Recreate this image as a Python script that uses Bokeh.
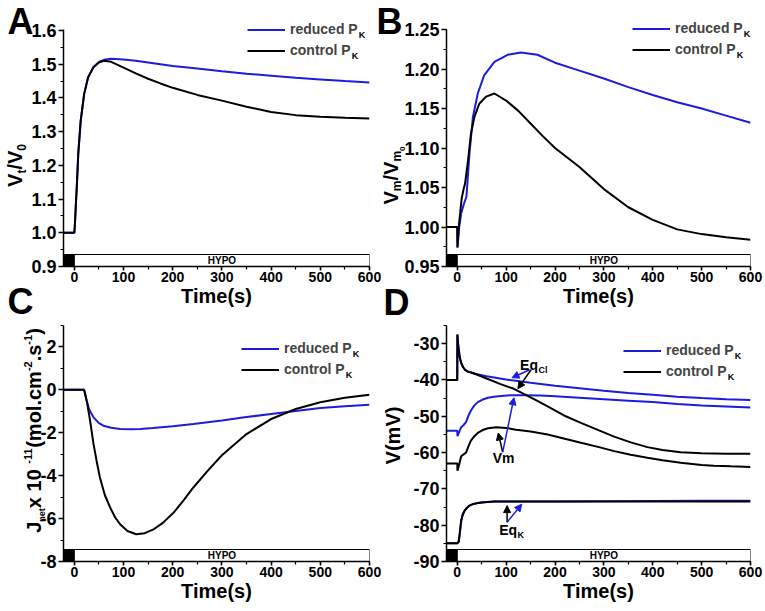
from math import pi
from bokeh.plotting import figure
from bokeh.models import (Label, Legend, LegendItem, Arrow, NormalHead, GridBox,
                          SingleIntervalTicker, PrintfTickFormatter, Range1d)
from bokeh.embed import file_html
from bokeh.resources import INLINE

FONT = "Liberation Sans"
BLUE = "#1c1ce0"
BLACK = "#000000"

# ---------------- data ----------------
stim_start = [-30, 0]
stim_end = [0, 600]
stim_fill = ["black", "white"]
stim_text = "HYPO"

# Panel A: Vt/V0
tA = [-21, 0, 1, 3, 5, 8, 13, 20, 28, 39, 50, 60, 75, 100, 125, 150, 175, 200,
      250, 300, 350, 400, 450, 500, 550, 600]
A_control = [1.0, 1.0, 1.02, 1.08, 1.135, 1.234, 1.333, 1.412, 1.461, 1.491, 1.505,
             1.510, 1.507, 1.490, 1.473, 1.457, 1.443, 1.430, 1.409, 1.392, 1.374,
             1.358, 1.349, 1.344, 1.341, 1.339]
A_reduced = [1.0, 1.0, 1.02, 1.08, 1.135, 1.234, 1.333, 1.412, 1.461, 1.492, 1.507,
             1.513, 1.516, 1.514, 1.510, 1.505, 1.500, 1.495, 1.487, 1.479, 1.472,
             1.466, 1.460, 1.455, 1.450, 1.446]

# Panel B: Vm/Vm0
tB_control = [-21, 0, 0.5, 3, 5, 9, 13, 16, 22, 28, 35, 45, 59, 76, 100, 125, 150,
              175, 200, 225, 250, 300, 350, 400, 450, 500, 550, 600]
B_control = [1.0, 1.0, 0.974, 1.0, 1.012, 1.036, 1.048, 1.055, 1.084, 1.118, 1.139,
             1.156, 1.165, 1.169, 1.160, 1.147, 1.131, 1.115, 1.100, 1.088, 1.076,
             1.048, 1.025, 1.009, 0.997, 0.991, 0.987, 0.984]
tB_reduced = [-21, 0, 0.5, 4, 8, 13, 18, 19, 25, 32, 42, 55, 76, 103, 130, 164, 200,
              250, 300, 350, 400, 450, 500, 550, 600]
B_reduced = [1.0, 1.0, 0.974, 1.0, 1.017, 1.028, 1.037, 1.040, 1.093, 1.139, 1.169,
             1.192, 1.209, 1.218, 1.221, 1.218, 1.208, 1.198, 1.188, 1.177, 1.167,
             1.158, 1.150, 1.141, 1.132]

# Panel C: Jnet
tC_control = [-21, 20, 26, 32, 39, 46, 52, 62, 73, 83, 93, 108, 126, 143, 161, 180,
              202, 222, 242, 270, 300, 350, 400, 450, 500, 550, 600]
C_control = [0, 0, -0.6, -1.43, -2.52, -3.4, -4.08, -4.9, -5.49, -5.95, -6.26, -6.58,
             -6.73, -6.68, -6.5, -6.2, -5.72, -5.15, -4.55, -3.8, -3.05, -2.06, -1.36,
             -0.89, -0.58, -0.37, -0.23]
tC_reduced = [-21, 20, 25, 30, 39, 50, 59, 75, 93, 115, 134, 160, 200, 242, 300, 350,
              400, 450, 500, 550, 600]
C_reduced = [0, 0, -0.5, -0.9, -1.28, -1.55, -1.67, -1.77, -1.82, -1.83, -1.82, -1.78,
             -1.7, -1.59, -1.43, -1.27, -1.12, -0.98, -0.84, -0.76, -0.69]

# Panel D: potentials (mV)
tD_eqcl_control = [-21, 0, 0.3, 2, 5, 8, 12, 16, 22, 30, 36, 60, 90, 117, 137, 160, 185,
                   222, 253, 290, 321, 355, 389, 420, 457, 500, 550, 600]
D_eqcl_control = [-40, -40, -27.5, -30.5, -33.7, -35.3, -36.5, -37.2, -37.7, -38.0, -38.3,
                  -39.6, -41.2, -42.5, -43.9, -45.5, -47.3, -50.0, -51.8, -53.9, -55.6,
                  -57.2, -58.5, -59.3, -59.9, -60.2, -60.3, -60.3]
tD_eqcl_reduced = [-21, 0, 0.3, 2, 5, 8, 12, 16, 22, 30, 36, 60, 100, 150, 200, 250, 300,
                   350, 400, 450, 500, 550, 600]
D_eqcl_reduced = [-40, -40, -27.5, -30.5, -33.7, -35.3, -36.5, -37.2, -37.7, -38.0, -38.3,
                  -39.0, -39.9, -40.8, -41.6, -42.3, -43.0, -43.6, -44.1, -44.6, -45.0,
                  -45.3, -45.5]
tD_vm_reduced = [-21, 0, 0.5, 4, 8, 13, 18, 23, 28, 35, 42, 52, 63, 75, 90, 110, 137, 170,
                 200, 250, 300, 350, 400, 450, 500, 550, 600]
D_vm_reduced = [-54, -54, -55.5, -54.3, -53.0, -52.4, -51.6, -49.8, -48.4, -47.0, -46.1,
                -45.4, -44.9, -44.6, -44.4, -44.2, -44.2, -44.3, -44.5, -44.9, -45.3,
                -45.7, -46.1, -46.6, -47.0, -47.3, -47.6]
tD_vm_control = [-21, 0, 0.5, 4, 8, 13, 18, 23, 28, 35, 42, 52, 63, 80, 100, 120, 150, 185,
                 220, 253, 290, 321, 355, 389, 420, 457, 500, 525, 560, 600]
D_vm_control = [-63, -63, -65, -63.2, -61.0, -60.5, -60.0, -58.2, -56.7, -55.5, -54.6,
                -53.8, -53.3, -53.0, -53.2, -53.7, -54.2, -55.0, -56.2, -57.3, -58.5,
                -59.6, -60.6, -61.4, -62.1, -62.8, -63.4, -63.6, -63.8, -64.0]
tD_eqk = [-21, 0, 3, 5, 8, 11, 15, 20, 25, 32, 42, 55, 76, 100, 150, 200, 300, 400, 500, 600]
D_eqk_control = [-85, -85, -84.5, -82.4, -78.8, -77.2, -76.0, -75.2, -74.6, -74.2, -73.9,
                 -73.7, -73.5, -73.5, -73.5, -73.5, -73.5, -73.5, -73.5, -73.5]
D_eqk_reduced = [-85, -85, -84.5, -82.4, -78.8, -77.2, -76.0, -75.2, -74.6, -74.2, -73.9,
                 -73.7, -73.5, -73.5, -73.5, -73.45, -73.4, -73.35, -73.3, -73.25]

legend_labels = ["reduced P", "control P"]
legend_sub = "K"

# annotation anchors in panel D (data coordinates)
eqcl_text = (128.6, -35.9)
eqcl_arrows = [((148, -37.2), (112, -39.4), BLUE), ((151, -37.2), (124, -42.4), BLACK)]
vm_text = (94.9, -61.5)
vm_arrows = [((93, -59.9), (84, -54.6), BLACK), ((93, -59.9), (116, -44.9), BLUE)]
eqk_text = (85.7, -81.3)
eqk_arrows = [((102, -79.2), (102, -74.6), BLACK), ((102, -79.2), (132, -74.2), BLUE)]

# ---------------- helpers ----------------
W = {' ': 278, '(': 333, ')': 333, '-': 333, '.': 278, '/': 278,
     '0': 556, '1': 556, '2': 556, '3': 556, '4': 556, '5': 556, '6': 556, '7': 556,
     '8': 556, '9': 556, 'A': 722, 'B': 722, 'C': 722, 'D': 722, 'E': 667, 'J': 556,
     'K': 722, 'P': 667, 'V': 667, 'c': 556, 'd': 611, 'e': 556, 'l': 278, 'm': 889,
     'n': 611, 'o': 611, 'q': 611, 'r': 389, 's': 556, 't': 333, 'u': 611, 'x': 556}


def tw(s, size):
    return sum(W.get(c, 556) for c in s) / 1000.0 * size


def lab(p, text, x, y, size, angle=0.0, align="left", baseline="middle",
        units="data", x_off=0, y_off=0):
    p.add_layout(Label(x=x, y=y, x_units=units, y_units=units, text=text, angle=angle,
                       x_offset=x_off, y_offset=y_off,
                       text_font=FONT, text_font_style="bold",
                       text_font_size=f"{size}px", text_color="black",
                       text_align=align, text_baseline=baseline))


def make_fig(width, height, yr, bl, bt, br, bb, yint, fmt):
    p = figure(width=width, height=height, x_range=Range1d(-22, 600),
               y_range=Range1d(*yr), output_backend="svg", toolbar_location=None,
               min_border_left=bl, min_border_top=bt, min_border_right=br,
               min_border_bottom=bb)
    p.outline_line_color = None
    p.xgrid.visible = False
    p.ygrid.visible = False
    p.background_fill_color = "white"
    p.border_fill_color = "white"
    p.xaxis.ticker = SingleIntervalTicker(interval=100, num_minor_ticks=2)
    p.yaxis.ticker = SingleIntervalTicker(interval=yint, num_minor_ticks=2)
    p.yaxis.formatter = PrintfTickFormatter(format=fmt)
    for ax in (p.xaxis[0], p.yaxis[0]):
        ax.axis_line_width = 1.5
        ax.major_tick_line_width = 1.5
        ax.minor_tick_line_width = 1.2
        ax.major_tick_in = 0
        ax.minor_tick_in = 0
        ax.minor_tick_out = 3
        ax.major_label_text_font = FONT
        ax.major_label_text_font_style = "bold"
        ax.major_label_text_color = "black"
    p.xaxis.major_tick_out = 4
    p.yaxis.major_tick_out = 5
    p.xaxis.major_label_text_font_size = "14px"
    p.yaxis.major_label_text_font_size = "18px"
    p.xaxis.major_label_standoff = 1
    p.yaxis.major_label_standoff = 2
    p.xaxis.axis_label = "Time(s)"
    p.xaxis.axis_label_text_font = FONT
    p.xaxis.axis_label_text_font_style = "bold"
    p.xaxis.axis_label_text_font_size = "20px"
    p.xaxis.axis_label_text_color = "black"
    p.xaxis.axis_label_standoff = 0
    # stimulus bar
    cx = [(s + e) / 2.0 for s, e in zip(stim_start, stim_end)]
    wd = [e - s for s, e in zip(stim_start, stim_end)]
    p.rect(x=cx, y=[yr[0]] * 2, width=wd, height=24, height_units="screen",
           fill_color=stim_fill, line_color="black", line_width=1)
    lab(p, stim_text, (stim_start[1] + stim_end[1]) / 2.0, yr[0], 10, align="center",
        y_off=6)
    return p


# ---------------- Panel A ----------------
pA = make_fig(381, 315, (0.9, 1.603), 63, 29, 12, 49, 0.1, "%.1f")
pA.line(tA, A_reduced, line_color=BLUE, line_width=2)
pA.line(tA, A_control, line_color=BLACK, line_width=2)

# ---------------- Panel B ----------------
pB = make_fig(383, 315, (0.95, 1.25), 65, 29, 14, 49, 0.05, "%.2f")
pB.line(tB_reduced, B_reduced, line_color=BLUE, line_width=2)
pB.line(tB_control, B_control, line_color=BLACK, line_width=2)

# ---------------- Panel C ----------------
pC = make_fig(381, 295, (-8, 3), 63, 10, 12, 49, 2, "%d")
pC.line(tC_reduced, C_reduced, line_color=BLUE, line_width=2)
pC.line(tC_control, C_control, line_color=BLACK, line_width=2)

# ---------------- Panel D ----------------
pD = make_fig(383, 295, (-90, -25), 65, 10, 14, 49, 10, "%d")
pD.line(tD_eqk, D_eqk_reduced, line_color=BLUE, line_width=2)
pD.line(tD_eqcl_reduced, D_eqcl_reduced, line_color=BLUE, line_width=2)
pD.line(tD_vm_reduced, D_vm_reduced, line_color=BLUE, line_width=2)
pD.line(tD_eqcl_control, D_eqcl_control, line_color=BLACK, line_width=2)
pD.line(tD_vm_control, D_vm_control, line_color=BLACK, line_width=2)
pD.line(tD_eqk, D_eqk_control, line_color=BLACK, line_width=2)

for arrows in (eqcl_arrows, vm_arrows, eqk_arrows):
    for (xs, ys), (xe, ye), col in arrows:
        pD.add_layout(Arrow(x_start=xs, y_start=ys, x_end=xe, y_end=ye,
                            line_color=col, line_width=1.5,
                            end=NormalHead(size=7, fill_color=col, line_color=col)))
lab(pD, "Eq", eqcl_text[0], eqcl_text[1], 14)
lab(pD, "Cl", eqcl_text[0], eqcl_text[1], 9, x_off=tw("Eq", 14) + 0.5, y_off=-4.5)
lab(pD, "Vm", vm_text[0], vm_text[1], 14, align="center")
lab(pD, "Eq", eqk_text[0], eqk_text[1], 14)
lab(pD, "K", eqk_text[0], eqk_text[1], 9, x_off=tw("Eq", 14) + 0.5, y_off=-5)

# ---------------- overlay: letters, y titles, legends (page pixels) ----------------
OW, OH = 764, 610
pO = figure(width=OW, height=OH, x_range=Range1d(0, OW), y_range=Range1d(OH, 0),
            output_backend="svg", toolbar_location=None, x_axis_type=None,
            y_axis_type=None, min_border=0)
pO.outline_line_color = None
pO.background_fill_alpha = 0
pO.border_fill_alpha = 0
pO.xgrid.visible = False
pO.ygrid.visible = False

for t, x, y in [("A", 7, 20.5), ("B", 376, 20.5), ("C", 7, 301), ("D", 383, 302)]:
    lab(pO, t, x, y, 36)


def vlabel(pieces, cx, yc, main=20):
    total = sum(tw(t, s) for t, s, _ in pieces)
    y = yc + total / 2.0
    for t, s, shift in pieces:
        dx = 0 if (s == main and shift == 0) else shift + 0.358 * (main - s)
        lab(pO, t, cx + dx, y, s, angle=pi / 2)
        y -= tw(t, s)


vlabel([("V", 20, 0), ("t", 12, 4), ("/V", 20, 0), ("0", 12, 4)], 14.5, 165)
vlabel([("V", 20, 0), ("m", 12, 4), ("/V", 20, 0), ("m", 12, 4), ("0", 8, 8)], 390, 175)
vlabel([("J", 20, 0), ("net", 9, 4), (" x 10", 20, 0), ("-11", 11, -9),
        ("(mol.cm", 20, 0), ("-2", 11, -9), (".s", 20, 0), ("-1", 11, -9),
        (")", 20, 0)], 33.5, 430)
lab(pO, "V(mV)", 392, 435, 20, angle=pi / 2, align="center")

# legends: swatches come from hidden copies of each panel's series
legend_specs = [(247, 29.3, (tA, A_reduced), (tA, A_control)),
                (632, 28.3, (tB_reduced, B_reduced), (tB_control, B_control)),
                (241, 348.3, (tC_reduced, C_reduced), (tC_control, C_control)),
                (623, 350.0, (tD_vm_reduced, D_vm_reduced), (tD_vm_control, D_vm_control))]
for x0, row1, red, ctl in legend_specs:
    rr = pO.line(red[0], red[1], line_color=BLUE, line_width=2, visible=False)
    rc = pO.line(ctl[0], ctl[1], line_color=BLACK, line_width=2, visible=False)
    top = row1 - 8.5
    leg = Legend(items=[LegendItem(label=legend_labels[0], renderers=[rr]),
                        LegendItem(label=legend_labels[1], renderers=[rc])],
                 location=(x0, OH - (top + 38)), padding=0, margin=0, spacing=4,
                 glyph_width=38, glyph_height=17, label_height=17, label_standoff=5,
                 label_text_font=FONT, label_text_font_style="bold",
                 label_text_font_size="14px", background_fill_alpha=0,
                 border_line_color=None)
    pO.add_layout(leg)
    for i, t in enumerate(legend_labels):
        lab(pO, legend_sub, x0 + 43 + tw(t, 14) + 0.5, row1 + 21 * i + 5, 9)

inner = GridBox(children=[(pA, 0, 0), (pB, 0, 1), (pC, 1, 0), (pD, 1, 1)])
page = GridBox(children=[(inner, 0, 0), (pO, 0, 0)])
open("out.html", "w").write(file_html(page, INLINE))
